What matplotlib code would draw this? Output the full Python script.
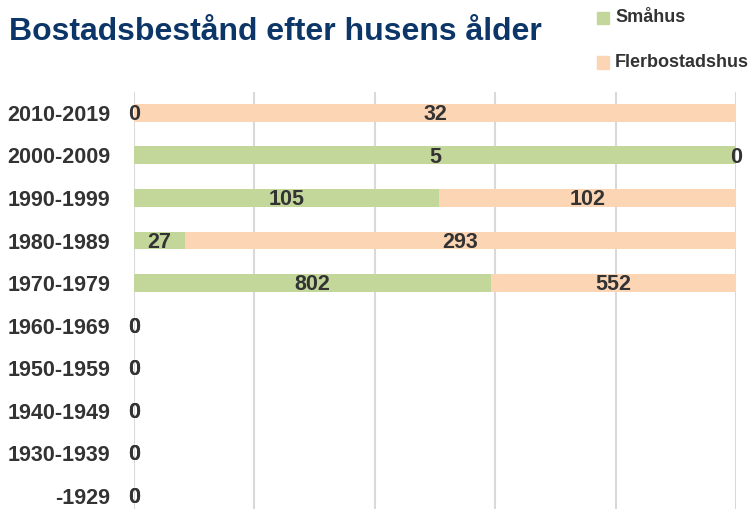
import matplotlib
matplotlib.use('Agg')
import matplotlib.pyplot as plt
import numpy as np
from matplotlib.patches import Rectangle

plt.rcParams['font.family'] = ['Liberation Sans', 'DejaVu Sans']
plt.rcParams['font.weight'] = 'bold'

# data, top row first
periods = ['2010-2019', '2000-2009', '1990-1999', '1980-1989', '1970-1979',
           '1960-1969', '1950-1959', '1940-1949', '1930-1939', '-1929']
smahus = [0, 5, 105, 27, 802, 0, 0, 0, 0, 0]
flerbostadshus = [32, 0, 102, 293, 552, 0, 0, 0, 0, 0]

green = '#C4D79B'
peach = '#FCD5B5'
txt = '#333333'

sm = np.array(smahus, dtype=float)
fl = np.array(flerbostadshus, dtype=float)
tot = sm + fl
sm_pct = np.where(tot > 0, sm / np.where(tot > 0, tot, 1) * 100, 0)
fl_pct = np.where(tot > 0, fl / np.where(tot > 0, tot, 1) * 100, 0)

fig = plt.figure(figsize=(7.54, 5.09), dpi=100)
ax = fig.add_axes([134 / 754, 0, (736 - 134) / 754, (509 - 92) / 509])

y = np.arange(len(periods))
bh = 0.42
ax.barh(y, sm_pct, height=bh, color=green, zorder=2)
ax.barh(y, fl_pct, left=sm_pct, height=bh, color=peach, zorder=2)

for i in range(len(periods)):
    ax.text(sm_pct[i] / 2, y[i] + 0.04, str(smahus[i]), ha='center', va='center',
            fontsize=15.5, fontweight='bold', color=txt, zorder=3)
    ax.text(sm_pct[i] + fl_pct[i] / 2, y[i] + 0.04, str(flerbostadshus[i]), ha='center',
            va='center', fontsize=15.5, fontweight='bold', color=txt, zorder=3)

ax.set_xlim(0, 100)
ax.set_ylim(9.31, -0.49)
ax.set_xticks([0, 20, 40, 60, 80, 100])
ax.set_xticklabels([])
ax.set_yticks(y)
ax.set_yticklabels(periods, fontsize=15.5, fontweight='bold', color=txt)
ax.tick_params(axis='both', length=0)
ax.tick_params(axis='y', pad=17)
ax.grid(axis='x', color='#D9D9D9', linewidth=1.5, zorder=0)
for s in ax.spines.values():
    s.set_visible(False)

fig.text(9 / 754, 1 - 40 / 509, 'Bostadsbestånd efter husens ålder', fontsize=23,
         fontweight='bold', color='#0D3668', ha='left', va='baseline')

# legend
for yc, col, lab in [(18, green, 'Småhus'), (62.5, peach, 'Flerbostadshus')]:
    fig.patches.append(Rectangle((597 / 754, 1 - (yc + 6) / 509), 12 / 754, 12 / 509,
                                 transform=fig.transFigure, color=col))
    fig.text(615 / 754, 1 - yc / 509, lab, fontsize=13, fontweight='bold', color=txt,
             ha='left', va='center')

fig.savefig('out.png', dpi=100)
